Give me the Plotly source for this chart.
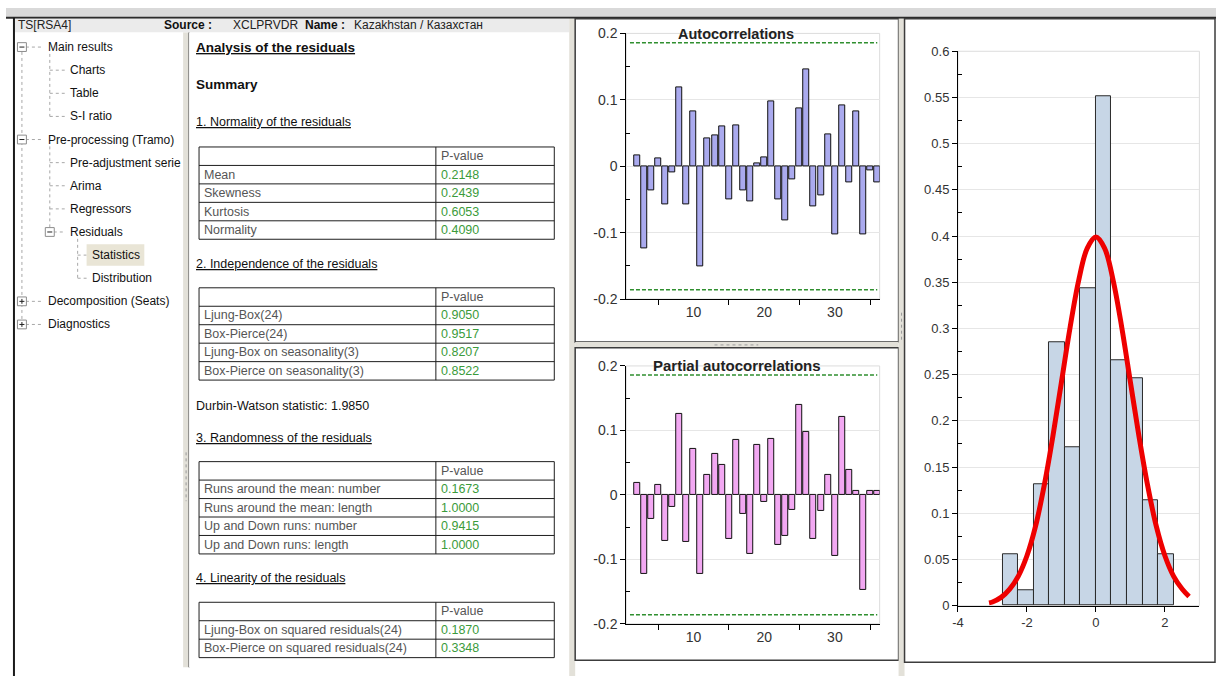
import plotly.graph_objects as go

W, H = 1216, 684
FONT = "Arial, 'Liberation Sans', sans-serif"

# ---------------- chart data ----------------
# bar slots as numbered on the correlogram axis
lag_slots = list(range(2, 37))
acf_values = [0.017, -0.123, -0.036, 0.0125, -0.057, -0.010, 0.118, -0.057, 0.083, -0.151,
              0.042, 0.047, 0.060, -0.050, 0.061, -0.036, -0.053, 0.005, 0.014, 0.098,
              -0.050, -0.081, -0.020, 0.0875, 0.146, -0.060, -0.044, 0.048, -0.103, 0.091,
              -0.024, 0.083, -0.102, -0.006, -0.024]
pacf_values = [0.018, -0.122, -0.038, 0.016, -0.071, -0.019, 0.125, -0.073, 0.072, -0.122,
               0.031, 0.064, 0.047, -0.068, 0.085, -0.029, -0.092, 0.078, -0.011, 0.087,
               -0.077, -0.064, -0.023, 0.139, 0.098, -0.068, -0.025, 0.031, -0.095, 0.121,
               0.038, 0.006, -0.147, 0.006, 0.006]
conf_band = 0.186
band_span = [1, 36]

corr_yticks = [-0.2, -0.1, 0, 0.1, 0.2]
corr_yticklabels = ["-0.2", "-0.1", "0", "0.1", "0.2"]
corr_yminor = [-0.15, -0.05, 0.05, 0.15]
corr_xticks = [10, 20, 30]
corr_xticklabels = ["10", "20", "30"]
corr_xmarks = [5, 15, 25, 35]

hist_edges = [-2.7, -2.25, -1.8, -1.35, -0.9, -0.45, 0.0, 0.45, 0.9, 1.35, 1.8, 2.25]
hist_density = [0.056, 0.017, 0.131, 0.285, 0.171, 0.343, 0.551, 0.266, 0.246, 0.114, 0.056]
curve_x = [-3.1, -3.0, -2.75, -2.5, -2.25, -2.0, -1.75, -1.5, -1.25, -1.0, -0.75, -0.5, -0.25,
           0.0, 0.25, 0.5, 0.75, 1.0, 1.25, 1.5, 1.75, 2.0, 2.25, 2.5, 2.7]
curve_y = [0.003, 0.004, 0.009, 0.018, 0.032, 0.054, 0.086, 0.130, 0.183, 0.242, 0.301, 0.352, 0.387,
           0.399, 0.387, 0.352, 0.301, 0.242, 0.183, 0.130, 0.086, 0.054, 0.032, 0.018, 0.010]
hist_yticks = [0, 0.05, 0.1, 0.15, 0.2, 0.25, 0.3, 0.35, 0.4, 0.45, 0.5, 0.55, 0.6]
hist_yticklabels = ["0", "0.05", "0.1", "0.15", "0.2", "0.25", "0.3", "0.35", "0.4", "0.45",
                    "0.5", "0.55", "0.6"]
hist_yminor = [0.025, 0.075, 0.125, 0.175, 0.225, 0.275, 0.325, 0.375, 0.425, 0.475, 0.525, 0.575]
hist_xticks = [-4, -2, 0, 2]
hist_xticklabels = ["-4", "-2", "0", "2"]

# ---------------- report text ----------------
header_series = "TS[RSA4]"
header_source = "XCLPRVDR"
header_name = "Kazakhstan / Казахстан"

normality_rows = [("Mean", "0.2148"), ("Skewness", "0.2439"), ("Kurtosis", "0.6053"),
                  ("Normality", "0.4090")]
independence_rows = [("Ljung-Box(24)", "0.9050"), ("Box-Pierce(24)", "0.9517"),
                     ("Ljung-Box on seasonality(3)", "0.8207"),
                     ("Box-Pierce on seasonality(3)", "0.8522")]
durbin_watson = "1.9850"
randomness_rows = [("Runs around the mean: number", "0.1673"),
                   ("Runs around the mean: length", "1.0000"),
                   ("Up and Down runs: number", "0.9415"),
                   ("Up and Down runs: length", "1.0000")]
linearity_rows = [("Ljung-Box on squared residuals(24)", "0.1870"),
                  ("Box-Pierce on squared residuals(24)", "0.3348")]

# (level, label, expander)
tree_items = [
    (0, "Main results", "-"), (1, "Charts", None), (1, "Table", None), (1, "S-I ratio", None),
    (0, "Pre-processing (Tramo)", "-"), (1, "Pre-adjustment serie", None), (1, "Arima", None),
    (1, "Regressors", None), (1, "Residuals", "-"), (2, "Statistics", None),
    (2, "Distribution", None), (0, "Decomposition (Seats)", "+"), (0, "Diagnostics", "+"),
]
tree_selected = "Statistics"

# ---------------- helpers (pixel -> paper) ----------------
def fx(x):
    return x / W


def fy(y):
    return 1 - y / H


shapes = []
annotations = []


def rect(x0, y0, x1, y1, fill=None, line=None, width=1, layer="below"):
    shapes.append(dict(type="rect", xref="paper", yref="paper",
                       x0=fx(x0), x1=fx(x1), y0=fy(y1), y1=fy(y0),
                       fillcolor=fill or "rgba(0,0,0,0)",
                       line=dict(color=line or "rgba(0,0,0,0)", width=width if line else 0),
                       layer=layer))


def hline(x0, x1, y, color="#000", width=1, dash="solid", layer="below"):
    shapes.append(dict(type="line", xref="paper", yref="paper", x0=fx(x0), x1=fx(x1),
                       y0=fy(y), y1=fy(y), line=dict(color=color, width=width, dash=dash),
                       layer=layer))


def vline(x, y0, y1, color="#000", width=1, dash="solid", layer="below"):
    shapes.append(dict(type="line", xref="paper", yref="paper", x0=fx(x), x1=fx(x),
                       y0=fy(y0), y1=fy(y1), line=dict(color=color, width=width, dash=dash),
                       layer=layer))


def text(x, y, s, size=12, color="#000", anchor="left"):
    annotations.append(dict(x=fx(x), y=fy(y), xref="paper", yref="paper", text=s,
                            showarrow=False, xanchor=anchor, yanchor="middle",
                            font=dict(family=FONT, size=size, color=color)))


# ---------------- window chrome ----------------
CHROME = "#e3e1d9"
rect(0, 0, W, 10, fill="#d9d9d9")
hline(0, W, 10, color="#2b2b2b", width=2)
rect(8, 11, 566, 25, fill="#ebebeb")
rect(8, 25, 178, H, fill="#ffffff")
vline(8, 10, H, color="#1a1a1a", width=2)
rect(178, 25, 184, 675, fill=CHROME)
vline(184, 25, 675, color="#6a6a6a", width=1.5)
rect(184, 25, 566, 675, fill="#ffffff")
rect(566, 11, 572, H, fill=CHROME)
rect(572, 11, 897, 342, fill="#ffffff", line="#3c3c3c", width=1.5)
rect(572, 342, 897, 348, fill=CHROME)
rect(572, 348, 897, 668, fill="#ffffff", line="#3c3c3c", width=1.5)
rect(897, 11, 903, H, fill=CHROME)
rect(903, 11, 1215, 670, fill="#ffffff", line="#3c3c3c", width=1.5)
# splitter grips
vline(181, 455, 505, color="#9a9a9a", width=1, dash="dot")
hline(712, 756, 345, color="#9a9a9a", width=1, dash="dot")
vline(900, 312, 340, color="#9a9a9a", width=1, dash="dot")

# header line
text(10, 17, header_series, size=12, color="#222")
text(157, 17, "<b>Source :</b>", size=12, color="#111")
text(226, 17, header_source, size=12, color="#222")
text(298, 17, "<b>Name :</b>", size=12, color="#111")
text(348, 17, header_name, size=12, color="#222")

# ---------------- navigation tree ----------------
TREE_Y0, TREE_DY = 40, 23.67
BOX_X = {0: 16, 1: 44}
TEXT_X = {0: 40, 1: 62, 2: 84}
STUB_X = {1: 44, 2: 72}
DOT = "#a8a8a8"
tree_y = [TREE_Y0 + i * TREE_DY for i in range(len(tree_items))]

# vertical connectors
top_rows = [i for i, it in enumerate(tree_items) if it[0] == 0]
vline(BOX_X[0], tree_y[top_rows[0]] + 5, tree_y[top_rows[-1]] - 5, color=DOT, dash="dot")
for i, (lvl, label, exp) in enumerate(tree_items):
    if exp == "-":
        kids = []
        for j in range(i + 1, len(tree_items)):
            if tree_items[j][0] <= lvl:
                break
            if tree_items[j][0] == lvl + 1:
                kids.append(j)
        if kids:
            cx = BOX_X[lvl] + 28
            vline(cx, tree_y[i] + 7, tree_y[kids[-1]], color=DOT, dash="dot")

for i, (lvl, label, exp) in enumerate(tree_items):
    y = tree_y[i]
    if exp:
        bx = BOX_X[lvl]
        hline(bx + 4, TEXT_X[lvl] - 3, y, color=DOT, dash="dot")
        rect(bx - 4.5, y - 4.5, bx + 4.5, y + 4.5, fill="#ffffff", line="#8c8c8c", width=1)
        hline(bx - 2.5, bx + 2.5, y, color="#222", width=1)
        if exp == "+":
            vline(bx, y - 2.5, y + 2.5, color="#222", width=1)
    else:
        sx = STUB_X[lvl]
        hline(sx, TEXT_X[lvl] - 3, y, color=DOT, dash="dot")
    if label == tree_selected:
        rect(TEXT_X[lvl] - 3, y - 11, TEXT_X[lvl] + 55, y + 11, fill="#e9e5d6")
    text(TEXT_X[lvl], y, label, size=12, color="#111")

# ---------------- residual analysis report ----------------
TX = 189
TAB_X0, TAB_XM, TAB_X1 = 194, 432, 551
ROW_H = 18.9
GREEN = "#3b9b3b"
LABEL_GREY = "#555555"


def table(top, rows):
    n = len(rows) + 1
    bottom = top + n * ROW_H
    rect(TAB_X0, top, TAB_X1, bottom, line="#1e1e1e", width=1)
    vline(TAB_XM, top, bottom, color="#1e1e1e")
    for r in range(1, n):
        hline(TAB_X0, TAB_X1, top + r * ROW_H, color="#1e1e1e")
    text(TAB_XM + 3, top + ROW_H / 2, "P-value", size=12.5, color=LABEL_GREY)
    for r, (lab, val) in enumerate(rows, start=1):
        cy = top + (r + 0.5) * ROW_H
        text(TAB_X0 + 3, cy, lab, size=12.5, color=LABEL_GREY)
        text(TAB_XM + 3, cy, val, size=12.5, color=GREEN)


text(TX, 40, "<b><u>Analysis of the residuals</u></b>", size=13.5, color="#111")
text(TX, 78, "<b>Summary</b>", size=13.5, color="#111")
text(TX, 117, "<u>1. Normality of the residuals</u>", size=12.5, color="#111")
table(142.3, normality_rows)
text(TX, 262, "<u>2. Independence of the residuals</u>", size=12.5, color="#111")
table(286.5, independence_rows)
text(TX, 408, "Durbin-Watson statistic: " + durbin_watson, size=12.5, color="#111")
text(TX, 440, "<u>3. Randomness of the residuals</u>", size=12.5, color="#111")
table(464.5, randomness_rows)
text(TX, 584, "<u>4. Linearity of the residuals</u>", size=12.5, color="#111")
table(608.5, linearity_rows)

# ---------------- figure ----------------
fig = go.Figure()

ACF_FILL = "#aaaaee"
PACF_FILL = "#f2a8f2"
BAND = "#2f8f2f"

fig.add_trace(go.Bar(x=lag_slots, y=acf_values, width=0.85, marker=dict(
    color=ACF_FILL, line=dict(color="#111", width=1)), xaxis="x", yaxis="y"))
fig.add_trace(go.Bar(x=lag_slots, y=pacf_values, width=0.85, marker=dict(
    color=PACF_FILL, line=dict(color="#111", width=1)), xaxis="x2", yaxis="y2"))
for xa, ya in (("x", "y"), ("x2", "y2")):
    for sign in (1, -1):
        fig.add_trace(go.Scatter(x=band_span, y=[sign * conf_band] * 2, mode="lines",
                                 line=dict(color=BAND, width=1.5, dash="4px,2px"),
                                 xaxis=xa, yaxis=ya, hoverinfo="skip"))

fig.add_trace(go.Bar(x=hist_edges[:-1], y=hist_density,
                     width=[b - a for a, b in zip(hist_edges[:-1], hist_edges[1:])],
                     offset=0, marker=dict(color="#c7d6e6", line=dict(color="#2a2a2a", width=1)),
                     xaxis="x3", yaxis="y3"))
fig.add_trace(go.Scatter(x=curve_x, y=curve_y, mode="lines", line=dict(
    color="#ee0000", width=5, shape="spline"), xaxis="x3", yaxis="y3", hoverinfo="skip"))

AX = dict(showline=True, linecolor="#000", linewidth=1, zeroline=False, fixedrange=True,
          tickfont=dict(family=FONT, size=14, color="#333"), tickcolor="#000")


def corr_axes(y_top, y_bot):
    xa = dict(AX, domain=[fx(623.3), fx(878)], range=[0.47, 36.34], tickmode="array",
              tickvals=corr_xticks, ticktext=corr_xticklabels, ticks="", showgrid=False,
              minor=dict(tickmode="array", tickvals=corr_xmarks, ticks="outside", ticklen=5,
                         tickcolor="#000"))
    ya = dict(AX, domain=[fy(y_bot), fy(y_top)], range=[-0.2, 0.2], tickmode="array",
              tickvals=corr_yticks, ticktext=corr_yticklabels, ticks="outside", ticklen=5,
              showgrid=True, gridcolor="#e6e6e6",
              minor=dict(tickmode="array", tickvals=corr_yminor, ticks="inside", ticklen=4,
                         tickcolor="#000", showgrid=False))
    return xa, ya


xa1, ya1 = corr_axes(26, 298)
xa2, ya2 = corr_axes(366.5, 630.5)
xa1["anchor"] = "y"
ya1["anchor"] = "x"
xa2["anchor"] = "y2"
ya2["anchor"] = "x2"

xa3 = dict(AX, domain=[fx(956.7), fx(1199.3)], range=[-4, 3], tickmode="array",
           tickvals=hist_xticks, ticktext=hist_xticklabels, ticks="outside", ticklen=5,
           showgrid=False, anchor="y3", tickfont=dict(family=FONT, size=13, color="#333"))
ya3 = dict(AX, domain=[fy(612), fy(44.3)], range=[0, 0.6], tickmode="array",
           tickvals=hist_yticks, ticktext=hist_yticklabels, ticks="outside", ticklen=5,
           showgrid=True, gridcolor="#e6e6e6", anchor="x3",
           tickfont=dict(family=FONT, size=13, color="#333"),
           minor=dict(tickmode="array", tickvals=hist_yminor, ticks="inside", ticklen=4,
                      tickcolor="#000", showgrid=False))

# light frames around the plotting areas
for xr, yr in (("x", "y"), ("x2", "y2"), ("x3", "y3")):
    shapes.append(dict(type="rect", xref=xr + " domain", yref=yr + " domain", x0=0, x1=1,
                       y0=0, y1=1, line=dict(color="#dcdcdc", width=1), layer="below"))

# chart titles
annotations.append(dict(x=fx(734), y=fy(27), xref="paper", yref="paper",
                        text="<b>Autocorrelations</b>", showarrow=False, xanchor="center",
                        yanchor="middle", font=dict(family=FONT, size=14.5, color="#222")))
annotations.append(dict(x=fx(734.5), y=fy(365.7), xref="paper", yref="paper",
                        text="<b>Partial autocorrelations</b>", showarrow=False,
                        xanchor="center", yanchor="middle",
                        font=dict(family=FONT, size=15, color="#222")))

fig.update_layout(
    width=W, height=H, margin=dict(l=0, r=0, t=0, b=0),
    paper_bgcolor="#ffffff", plot_bgcolor="rgba(0,0,0,0)",
    showlegend=False, bargap=0,
    xaxis=xa1, yaxis=ya1, xaxis2=xa2, yaxis2=ya2, xaxis3=xa3, yaxis3=ya3,
    shapes=shapes, annotations=annotations,
)

# the page hosts only the figure: drop the default page margins
fig.write_html("out.html", config={"displayModeBar": False},
               post_script="document.documentElement.style.margin='0';"
                           "document.body.style.margin='0';"
                           "document.body.style.padding='0';"
                           "document.body.style.overflow='hidden';")
